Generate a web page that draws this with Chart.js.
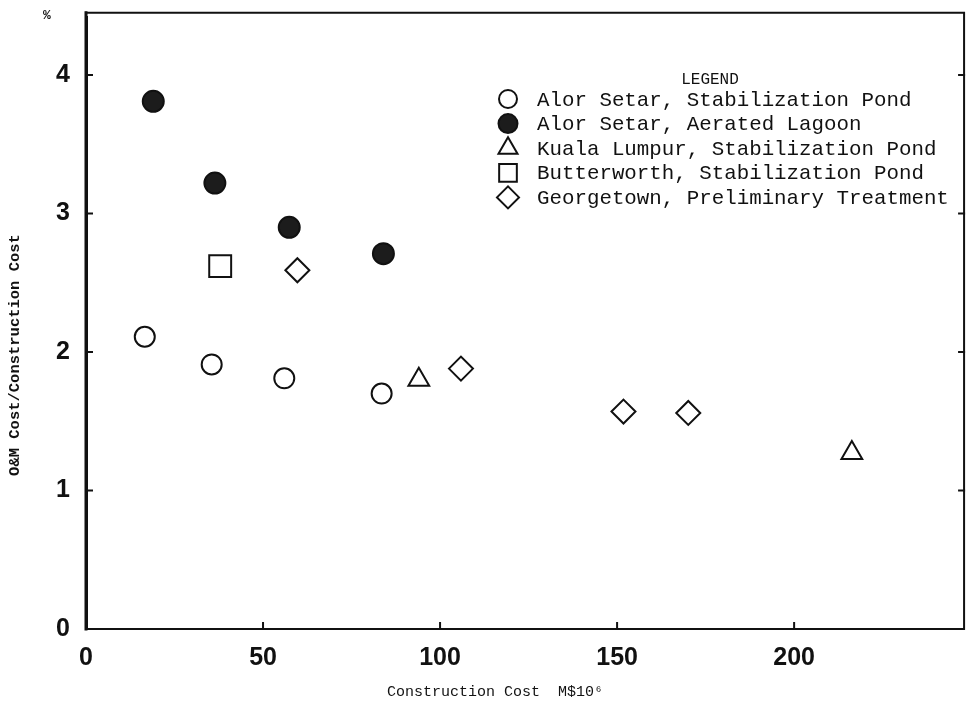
<!DOCTYPE html>
<html lang="en">
<head>
    <meta charset="UTF-8">
    <title>O&amp;M Cost vs Construction Cost</title>
    <script src="https://cdn.jsdelivr.net/npm/chart.js"></script>
    <style>
        html, body { margin: 0; padding: 0; background: #fff; overflow: hidden; }
        #wrap { width: 966px; height: 717px; position: relative; }
        #wrap canvas { display: block; }
    </style>
</head>
<body>
    <div id="wrap"><canvas id="costChart"></canvas></div>

    <script>
        // series
        const seriesNames = [
            'Alor Setar, Stabilization Pond',
            'Alor Setar, Aerated Lagoon',
            'Kuala Lumpur, Stabilization Pond',
            'Butterworth, Stabilization Pond',
            'Georgetown, Preliminary Treatment'
        ];
        const asPondX = [16.6, 35.5, 56.0, 83.5];
        const asPondY = [2.11, 1.91, 1.81, 1.70];
        const asLagoonX = [19.0, 36.4, 57.4, 84.0];
        const asLagoonY = [3.81, 3.22, 2.90, 2.71];
        const klPondX = [94.0, 216.3];
        const klPondY = [1.80, 1.27];
        const bwPondX = [37.9];
        const bwPondY = [2.62];
        const gtPrelimX = [59.7, 105.9, 151.8, 170.1];
        const gtPrelimY = [2.59, 1.88, 1.57, 1.56];

        const xTicks = [0, 50, 100, 150, 200];
        const yTicks = [0, 1, 2, 3, 4];
        const xTitle = 'Construction Cost  M$10\u2076';
        const yTitle = 'O&M Cost/Construction Cost';

        // where the drawn frame closes (top / right edges of the original plot)
        const xFrameMax = 248;
        const yFrameMax = 4.45;

        const pts = (xs, ys) => xs.map((x, i) => ({ x: x, y: ys[i] }));

        const ink = '#111';
        const monoFont = '"Liberation Mono", "DejaVu Sans Mono", monospace';
        const tickFont = { family: '"Liberation Sans", Arial, sans-serif', size: 25, weight: 'bold' };

        const datasets = [
            { label: seriesNames[0], data: pts(asPondX, asPondY), pointStyle: 'circle', pointRadius: 10, backgroundColor: '#fff', borderColor: ink, legendRadius: 9 },
            { label: seriesNames[1], data: pts(asLagoonX, asLagoonY), pointStyle: 'circle', pointRadius: 10.5, backgroundColor: '#1c1c1c', borderColor: ink, legendRadius: 9.5 },
            { label: seriesNames[2], data: pts(klPondX, klPondY), pointStyle: 'triangle', pointRadius: 12, backgroundColor: '#fff', borderColor: ink, legendRadius: 11 },
            { label: seriesNames[3], data: pts(bwPondX, bwPondY), pointStyle: 'rect', pointRadius: 15.5, backgroundColor: '#fff', borderColor: ink, legendRadius: 12.5 },
            { label: seriesNames[4], data: pts(gtPrelimX, gtPrelimY), pointStyle: 'rectRot', pointRadius: 12, backgroundColor: '#fff', borderColor: ink, legendRadius: 11 }
        ];
        datasets.forEach(d => { d.pointBorderWidth = 2; d.pointHoverRadius = d.pointRadius; });

        // frame box, small inward tick marks, axis titles
        const framePlugin = {
            id: 'frame',
            afterDraw(chart) {
                const { ctx, scales } = chart;
                const x0 = scales.x.getPixelForValue(0), x1 = scales.x.getPixelForValue(xFrameMax);
                const y0 = scales.y.getPixelForValue(0), y1 = scales.y.getPixelForValue(yFrameMax);
                ctx.save();
                ctx.strokeStyle = ink;
                ctx.lineCap = 'square';
                ctx.lineWidth = 3;
                ctx.beginPath();
                ctx.moveTo(x0, y0); ctx.lineTo(x0, y1);
                ctx.stroke();
                ctx.lineWidth = 2;
                ctx.beginPath();
                ctx.moveTo(x0, y1); ctx.lineTo(x1, y1); ctx.lineTo(x1, y0); ctx.lineTo(x0, y0);
                ctx.stroke();
                ctx.beginPath();
                yTicks.slice(1).forEach(v => {
                    const y = scales.y.getPixelForValue(v);
                    ctx.moveTo(x0, y); ctx.lineTo(x0 + 6, y);
                    ctx.moveTo(x1, y); ctx.lineTo(x1 - 5, y);
                });
                xTicks.slice(1).forEach(v => {
                    const x = scales.x.getPixelForValue(v);
                    ctx.moveTo(x, y0); ctx.lineTo(x, y0 - 6);
                });
                ctx.stroke();

                ctx.fillStyle = ink;
                ctx.textAlign = 'center';
                ctx.textBaseline = 'middle';
                // unit mark above the y axis
                ctx.font = 'bold 13px ' + monoFont;
                ctx.fillText('%', 47, 16);
                // axis titles
                ctx.font = '15px ' + monoFont;
                ctx.fillText(xTitle, 495, 692);
                ctx.translate(15, 355);
                ctx.rotate(-Math.PI / 2);
                ctx.font = 'bold 15.5px ' + monoFont;
                ctx.fillText(yTitle, 0, 0);
                ctx.restore();
            }
        };

        // legend drawn inside the plot, upper right
        const legendPlugin = {
            id: 'inlineLegend',
            afterDatasetsDraw(chart) {
                const ctx = chart.ctx;
                const markX = 508, textX = 537, firstY = 99, rowH = 24.6;
                ctx.save();
                ctx.fillStyle = ink;
                ctx.font = '16px ' + monoFont;
                ctx.textAlign = 'center';
                ctx.textBaseline = 'middle';
                ctx.fillText('LEGEND', 710, 80);
                ctx.font = '20.8px ' + monoFont;
                ctx.textAlign = 'left';
                chart.data.datasets.forEach((d, i) => {
                    const y = firstY + i * rowH;
                    ctx.fillStyle = d.backgroundColor;
                    ctx.strokeStyle = d.borderColor;
                    ctx.lineWidth = 2;
                    Chart.helpers.drawPoint(ctx, { pointStyle: d.pointStyle, radius: d.legendRadius, rotation: 0, borderWidth: 2 }, markX, y);
                    ctx.fillStyle = ink;
                    ctx.fillText(d.label, textX, y + 1);
                });
                ctx.restore();
            }
        };

        new Chart(document.getElementById('costChart'), {
            type: 'scatter',
            data: { datasets: datasets },
            options: {
                responsive: true,
                maintainAspectRatio: false,
                animation: false,
                layout: { padding: { top: 13, right: 2, left: 0, bottom: 0 } },
                plugins: {
                    legend: { display: false },
                    tooltip: { enabled: false }
                },
                scales: {
                    x: {
                        type: 'linear',
                        min: 0,
                        max: 243.6,
                        afterFit(s) { s.height = 88; s.paddingLeft = 0; s.paddingRight = 0; },
                        afterBuildTicks(s) { s.ticks = xTicks.map(v => ({ value: v })); },
                        grid: { display: false, drawTicks: false },
                        border: { display: true, color: ink, width: 2 },
                        ticks: { padding: 14, color: ink, font: tickFont }
                    },
                    y: {
                        type: 'linear',
                        min: 0,
                        max: 4.415,
                        afterFit(s) { s.width = 86; s.paddingTop = 0; s.paddingBottom = 0; },
                        afterBuildTicks(s) { s.ticks = yTicks.map(v => ({ value: v })); },
                        grid: { display: false, drawTicks: false },
                        border: { display: true, color: ink, width: 3 },
                        ticks: { padding: 16, color: ink, font: tickFont }
                    }
                }
            },
            plugins: [framePlugin, legendPlugin]
        });
    </script>
</body>
</html>
